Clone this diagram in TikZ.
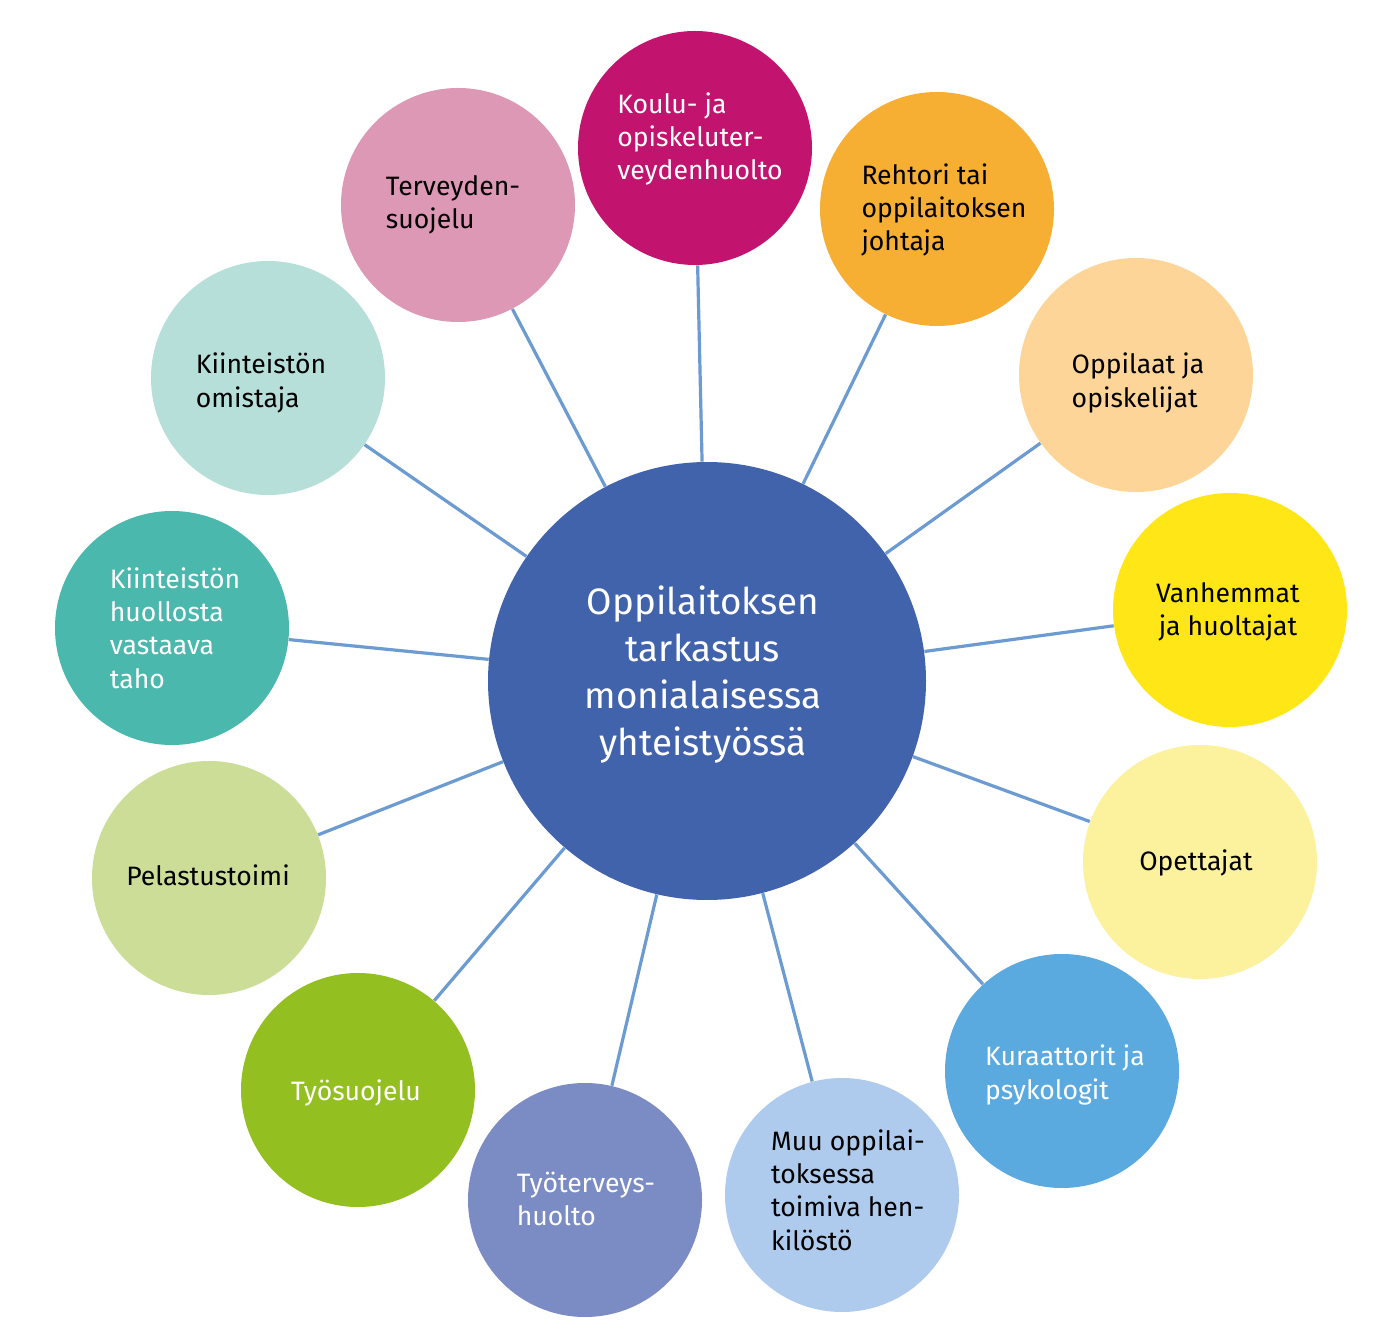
\documentclass[tikz,border=0pt]{standalone}
\usepackage{fontspec}
\setmainfont{Fira Sans}
\definecolor{cCenter}{HTML}{4163AC}
\definecolor{cKoulu}{HTML}{C2146F}
\definecolor{cRehtori}{HTML}{F6AE33}
\definecolor{cOppilaat}{HTML}{FDD598}
\definecolor{cVanh}{HTML}{FFE617}
\definecolor{cOpett}{HTML}{FCF19C}
\definecolor{cKuraat}{HTML}{5AA9DF}
\definecolor{cMuu}{HTML}{AECBEE}
\definecolor{cTyoter}{HTML}{7B8BC4}
\definecolor{cTyosuo}{HTML}{93C020}
\definecolor{cPelast}{HTML}{CBDD97}
\definecolor{cHuolto}{HTML}{4BB8AE}
\definecolor{cOmist}{HTML}{B5DFD8}
\definecolor{cTerv}{HTML}{DC98B5}
\definecolor{cLine}{HTML}{6C9BD2}
\begin{document}
\begin{tikzpicture}[x=0.5pt,y=-0.5pt,
  outer/.style={circle,inner sep=0pt,minimum size=117pt,draw=none,fill=#1},
  lbl/.style={inner sep=0pt,align=left,font=\fontsize{13.3}{16.7}\selectfont,text=#1},
  clbl/.style={inner sep=0pt,align=center,font=\fontsize{13.3}{16.7}\selectfont,text=#1},
  conn/.style={draw=cLine,line width=1.6pt}]
\useasboundingbox (0,0) rectangle (1382,1336);
\fill[white] (0,0) rectangle (1382,1336);

\node[circle,inner sep=0pt,minimum size=219pt,fill=cCenter] (c) at (707,681) {};
\node[inner sep=0pt,align=center,text=white,font=\fontsize{18.4}{23.5}\selectfont] (ct) at (703,675)
  {Oppilaitoksen\\tarkastus\\monialaisessa\\yhteistyössä};

\node[outer=cKoulu] (o1) at (695,148) {};
\node[outer=cRehtori] (o2) at (937,209) {};
\node[outer=cOppilaat] (o3) at (1136,375) {};
\node[outer=cVanh] (o4) at (1230,610) {};
\node[outer=cOpett] (o5) at (1200,862) {};
\node[outer=cKuraat] (o6) at (1062,1071) {};
\node[outer=cMuu] (o7) at (842,1195) {};
\node[outer=cTyoter] (o8) at (585,1200) {};
\node[outer=cTyosuo] (o9) at (358,1090) {};
\node[outer=cPelast] (o10) at (209,878) {};
\node[outer=cHuolto] (o11) at (172,628) {};
\node[outer=cOmist] (o12) at (268,378) {};
\node[outer=cTerv] (o13) at (458,205) {};

\foreach \i in {1,...,13} {\draw[conn] (c) -- (o\i);}

\node[lbl=white] (t1) at (700,139) {Koulu- ja\\opiskeluter-\\veydenhuolto};
\node[lbl=black] (t2) at (944,210) {Rehtori tai\\oppilaitoksen\\johtaja};
\node[lbl=black] (t3) at (1138,383) {Oppilaat ja\\opiskelijat};
\node[clbl=black] (t4) at (1228,612) {Vanhemmat\\ja huoltajat};
\node[lbl=black] (t5) at (1196,863) {Opettajat};
\node[lbl=white] (t6) at (1065,1075) {Kuraattorit ja\\psykologit};
\node[lbl=black] (t7) at (848,1190) {Muu oppilai-\\toksessa\\toimiva hen-\\kilöstö};
\node[lbl=white] (t8) at (586,1199) {Työterveys-\\huolto};
\node[lbl=white] (t9) at (356,1093) {Työsuojelu};
\node[lbl=black] (t10) at (208,875) {Pelastustoimi};
\node[lbl=white] (t11) at (175,628) {Kiinteistön\\huollosta\\vastaava\\taho};
\node[lbl=black] (t12) at (261,383) {Kiinteistön\\omistaja};
\node[lbl=black] (t13) at (453,205) {Terveyden-\\suojelu};
\end{tikzpicture}
\end{document}
